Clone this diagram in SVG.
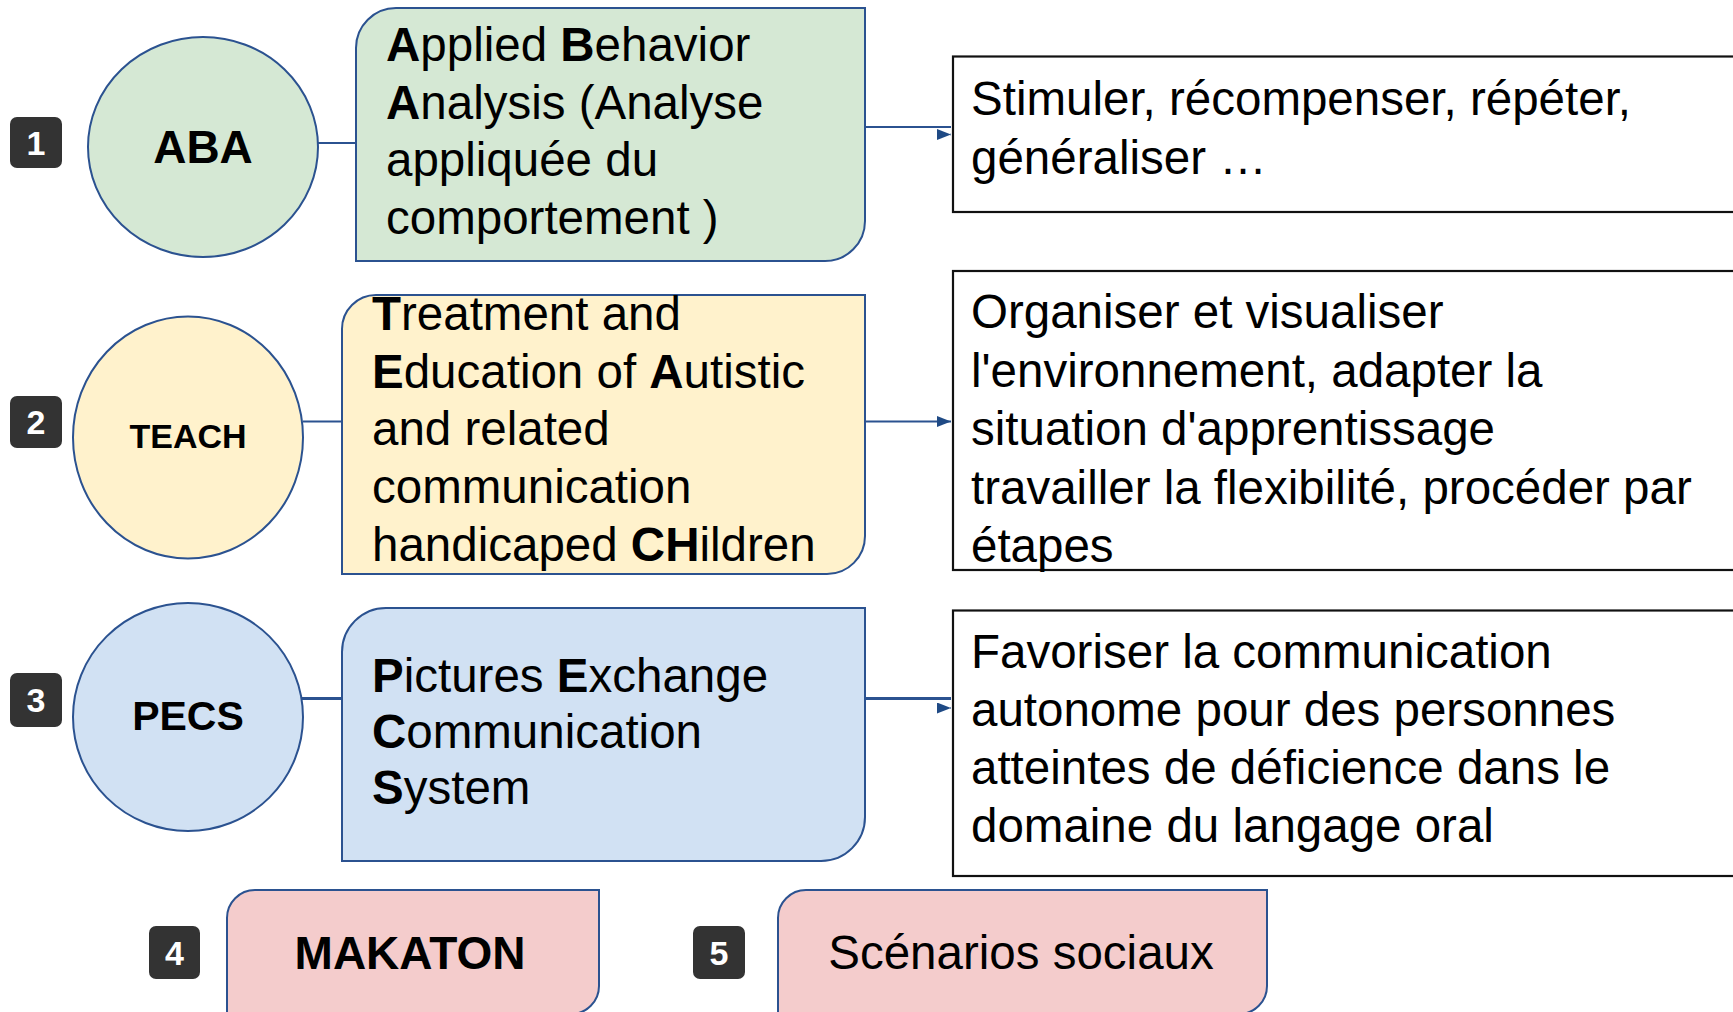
<svg xmlns="http://www.w3.org/2000/svg" width="1733" height="1012" viewBox="0 0 1733 1012">
<style>
text{font-family:"Liberation Sans",Arial,sans-serif;fill:#000}
.t{font-size:47.5px}
.b{font-weight:bold}
.badge rect{fill:#333333}
.badge text{fill:#fff;font-weight:bold;font-size:34px;text-anchor:middle}
.node{stroke:#2B5290;stroke-width:2}
.green{fill:#D5E8D4}
.yellow{fill:#FFF2CC}
.blue{fill:#D1E1F3}
.pink{fill:#F4CCCC}
.desc{fill:#fff;stroke:#111;stroke-width:2.2}
.conn{stroke:#2B5290;stroke-width:2;fill:none}
</style>
<defs>
<marker id="arr" viewBox="0 0 14 11" refX="14" refY="5.5" markerWidth="14" markerHeight="11" markerUnits="userSpaceOnUse" orient="auto">
<path d="M0 0 L14 5.5 L0 11 z" fill="#1F4A85"/>
</marker>
</defs>

<g id="connectors">
<line class="conn" x1="318" y1="143" x2="357" y2="143"/>
<path class="conn" d="M865 127 H951 M950.5 134.5 H951" marker-end="url(#arr)"/>
<line class="conn" x1="303" y1="421.5" x2="342" y2="421.5"/>
<path class="conn" d="M865 421.5 H951" marker-end="url(#arr)"/>
<line class="conn" style="stroke-width:3" x1="302" y1="698.5" x2="354" y2="698.5"/>
<path class="conn" style="stroke-width:3" d="M865 698.5 H951"/>
<path class="conn" d="M950.5 708 H951" marker-end="url(#arr)"/>
</g>

<g id="badge1" class="badge"><rect x="10" y="117" width="52" height="51" rx="7"/><text x="36" y="154.5">1</text></g>
<g id="badge2" class="badge"><rect x="10" y="396" width="52" height="52" rx="7"/><text x="36" y="434">2</text></g>
<g id="badge3" class="badge"><rect x="10" y="673" width="52" height="54" rx="7"/><text x="36" y="712">3</text></g>
<g id="badge4" class="badge"><rect x="149" y="926" width="51" height="53" rx="7"/><text x="174.5" y="964.5">4</text></g>
<g id="badge5" class="badge"><rect x="693" y="926" width="52" height="53" rx="7"/><text x="719" y="964.5">5</text></g>

<g id="aba">
<ellipse class="node green" cx="203" cy="147" rx="115" ry="110"/>
<text class="b" x="203" y="163" font-size="46" text-anchor="middle">ABA</text>
</g>
<g id="aba-def">
<path class="node green" d="M396 8 H865 V221 A40 40 0 0 1 825 261 H356 V48 A40 40 0 0 1 396 8 Z"/>
<text class="t" x="386" y="61"><tspan class="b">A</tspan>pplied <tspan class="b">B</tspan>ehavior</text>
<text class="t" x="386" y="118.5"><tspan class="b">A</tspan>nalysis (Analyse</text>
<text class="t" x="386" y="176">appliquée du</text>
<text class="t" x="386" y="233.5">comportement )</text>
</g>
<g id="aba-desc">
<rect class="desc" x="953" y="56.5" width="800" height="155.5"/>
<text class="t" x="971" y="115">Stimuler, récompenser, répéter,</text>
<text class="t" x="971" y="173.5">généraliser …</text>
</g>

<g id="teach">
<ellipse class="node yellow" cx="188" cy="437.5" rx="115" ry="121"/>
<text class="b" x="188" y="448" font-size="34" text-anchor="middle">TEACH</text>
</g>
<g id="teach-def">
<path class="node yellow" d="M376 295 H865 V536 A38 38 0 0 1 827 574 H342 V329 A34 34 0 0 1 376 295 Z"/>
<text class="t" x="372" y="330"><tspan class="b">T</tspan>reatment and</text>
<text class="t" x="372" y="387.5"><tspan class="b">E</tspan>ducation of <tspan class="b">A</tspan>utistic</text>
<text class="t" x="372" y="445">and related</text>
<text class="t" x="372" y="503">communication</text>
<text class="t" x="372" y="560.5">handicaped <tspan class="b">CH</tspan>ildren</text>
</g>
<g id="teach-desc">
<rect class="desc" x="953" y="271" width="800" height="299"/>
<text class="t" x="971" y="328">Organiser et visualiser</text>
<text class="t" x="971" y="386.5">l'environnement, adapter la</text>
<text class="t" x="971" y="445">situation d'apprentissage</text>
<text class="t" x="971" y="503.5">travailler la flexibilité, procéder par</text>
<text class="t" x="971" y="562">étapes</text>
</g>

<g id="pecs">
<ellipse class="node blue" cx="188" cy="717" rx="115" ry="114"/>
<text class="b" x="188" y="730" font-size="41" text-anchor="middle">PECS</text>
</g>
<g id="pecs-def">
<path class="node blue" d="M386 608 H865 V817 A44 44 0 0 1 821 861 H342 V652 A44 44 0 0 1 386 608 Z"/>
<text class="t" x="372" y="692"><tspan class="b">P</tspan>ictures <tspan class="b">E</tspan>xchange</text>
<text class="t" x="372" y="748"><tspan class="b">C</tspan>ommunication</text>
<text class="t" x="372" y="804"><tspan class="b">S</tspan>ystem</text>
</g>
<g id="pecs-desc">
<rect class="desc" x="953" y="610.5" width="800" height="265.5"/>
<text class="t" x="971" y="668">Favoriser la communication</text>
<text class="t" x="971" y="726">autonome pour des personnes</text>
<text class="t" x="971" y="783.5">atteintes de déficience dans le</text>
<text class="t" x="971" y="841.5">domaine du langage oral</text>
</g>

<g id="makaton">
<path class="node pink" d="M255 890 H599 V986 A28 28 0 0 1 571 1014 H227 V918 A28 28 0 0 1 255 890 Z"/>
<text class="b" x="410" y="968.5" font-size="46" text-anchor="middle">MAKATON</text>
</g>
<g id="scenarios">
<path class="node pink" d="M806 890 H1267 V986 A28 28 0 0 1 1239 1014 H778 V918 A28 28 0 0 1 806 890 Z"/>
<text class="t" x="1021" y="968.5" text-anchor="middle">Scénarios sociaux</text>
</g>
</svg>
